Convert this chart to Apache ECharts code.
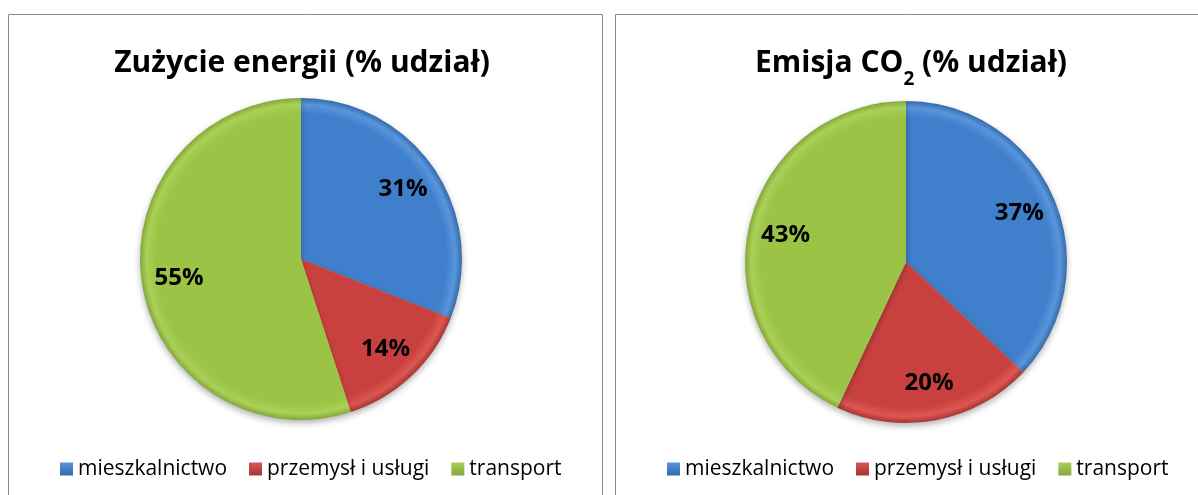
<!DOCTYPE html>
<html>
<head>
<meta charset="utf-8">
<script src="https://cdn.jsdelivr.net/npm/echarts@6/dist/echarts.min.js"></script>
<style>
  html, body { margin: 0; padding: 0; background: #fff; }
  #main { width: 1198px; height: 495px; }
</style>
</head>
<body>
<div id="main"></div>
<script>
// dane
var categories = ['mieszkalnictwo', 'przemysł i usługi', 'transport'];
var energyShare = [31, 14, 55]; // Zużycie energii
var co2Share = [37, 20, 43];    // Emisja CO2

// kolory (jasny brzeg / srodek / ciemna krawedz)
var palette = [
  { base: '#3f7fcb', rim: '#5895db', edge: '#356aa9' },
  { base: '#c9413e', rim: '#dc5652', edge: '#a63532' },
  { base: '#9bc446', rim: '#a9d058', edge: '#85a83a' }
];

var R = 161;
var pies = [
  { title: 'Zużycie energii (% udział)', values: energyShare, center: [301, 259], titleX: 302, legendX: 60 },
  { title: 'Emisja CO{sub|2} (% udział)', values: co2Share, center: [906, 262], titleX: 911, legendX: 667 }
];

function sliceColor(p, c) {
  return new echarts.graphic.RadialGradient(c[0], c[1], R, [
    { offset: 0, color: p.base },
    { offset: 0.9, color: p.base },
    { offset: 0.96, color: p.rim },
    { offset: 1, color: p.edge }
  ], true);
}

function legendData() {
  return categories.map(function(name, i) {
    return {
      name: name,
      itemStyle: {
        color: new echarts.graphic.LinearGradient(0, 0, 0, 1, [
          { offset: 0, color: palette[i].rim },
          { offset: 1, color: palette[i].edge }
        ])
      }
    };
  });
}

var titles = [], legends = [], series = [];
pies.forEach(function(pie) {
  titles.push({
    text: pie.title,
    left: pie.titleX,
    top: 63,
    padding: 0,
    textAlign: 'center',
    textVerticalAlign: 'middle',
    textStyle: {
      fontFamily: 'Open Sans',
      fontWeight: 'bold',
      fontSize: 30,
      lineHeight: 30,
      color: '#000',
      rich: {
        sub: {
          fontFamily: 'Open Sans',
          fontWeight: 'bold',
          fontSize: 19,
          lineHeight: 19,
          color: '#000',
          verticalAlign: 'top',
          padding: [22, 0, 0, 0]
        }
      }
    }
  });
  legends.push({
    data: legendData(),
    left: pie.legendX,
    top: 458,
    padding: 0,
    itemWidth: 13,
    itemHeight: 13,
    itemGap: 22,
    icon: 'rect',
    selectedMode: false,
    textStyle: { fontFamily: 'Open Sans', fontSize: 21, lineHeight: 22, color: '#000' }
  });
  var data = categories.map(function(name, i) {
    return { name: name, value: pie.values[i], itemStyle: { color: sliceColor(palette[i], pie.center) } };
  });
  // wycinki
  series.push({
    type: 'pie',
    center: pie.center,
    radius: [0, R],
    startAngle: 90,
    clockwise: true,
    label: { show: false },
    labelLine: { show: false },
    emphasis: { disabled: true },
    itemStyle: {
      borderWidth: 0,
      shadowBlur: 6,
      shadowOffsetY: 3,
      shadowColor: 'rgba(0,0,0,0.3)'
    },
    data: data
  });
  // etykiety procentowe
  series.push({
    type: 'pie',
    center: pie.center,
    radius: [80, R],
    startAngle: 90,
    clockwise: true,
    silent: true,
    emphasis: { disabled: true },
    itemStyle: { color: 'rgba(0,0,0,0)' },
    label: {
      show: true,
      position: 'inside',
      formatter: '{c}%',
      fontFamily: 'Open Sans',
      fontWeight: 'bold',
      fontSize: 24,
      color: '#000'
    },
    labelLine: { show: false },
    data: categories.map(function(name, i) { return { name: name, value: pie.values[i] }; })
  });
});

var myChart = echarts.init(document.getElementById('main'));
myChart.setOption({
  animation: false,
  backgroundColor: '#fff',
  title: titles,
  legend: legends,
  graphic: [
    { type: 'rect', shape: { x: 8.5, y: 14.5, width: 594, height: 500 }, style: { fill: 'none', stroke: '#8a8a8a', lineWidth: 1 }, z: -1 },
    { type: 'rect', shape: { x: 615.5, y: 14.5, width: 600, height: 500 }, style: { fill: 'none', stroke: '#8a8a8a', lineWidth: 1 }, z: -1 }
  ],
  series: series
});
</script>
</body>
</html>
